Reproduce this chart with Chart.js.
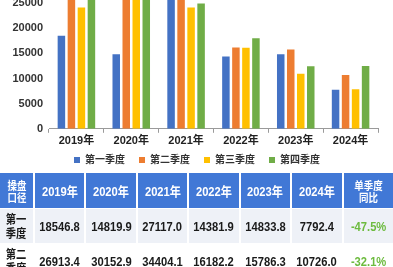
<!DOCTYPE html>
<html>
<head>
<meta charset="utf-8">
<script src="https://cdn.jsdelivr.net/npm/chart.js@4"></script>
<style>
html, body { margin:0; padding:0; background:#fff; width:393px; height:267px; overflow:hidden; position:relative;
  font-family:'Liberation Sans','Noto Sans CJK SC',sans-serif; }
#box { position:absolute; left:0; top:-47px; width:393px; height:231px; }
table { position:absolute; left:-2px; top:172px; width:397px; border-collapse:separate; border-spacing:2px 1px; table-layout:fixed; }
td, th { padding:0; text-align:center; vertical-align:middle; white-space:nowrap; }
th { background:#4178d6; color:#fff; height:35px; font:bold 13px 'Liberation Sans','Noto Sans CJK SC',sans-serif; }
th.cn { font:bold 11px/12px 'Noto Sans CJK SC',sans-serif; }
td { height:34px; color:#1a1a1a; font:bold 13px 'Liberation Sans','Noto Sans CJK SC',sans-serif; }
td.cn { font:bold 12px/14px 'Noto Sans CJK SC',sans-serif; }
td.pct { color:#6dbb3f; }
tr.r1 td { background:#eef1f7; }
.s { display:inline-block; transform:scaleX(0.86); }
</style>
</head>
<body>
<div id="box"><canvas id="myChart"></canvas></div>
<table id="tbl"></table>
<script>
var years = ['2019年','2020年','2021年','2022年','2023年','2024年'];
var quarters = ['第一季度','第二季度','第三季度','第四季度'];
var q1 = [18546.8, 14819.9, 27117.0, 14381.9, 14833.8, 7792.4];
var q2 = [26913.4, 30152.9, 34404.1, 16182.2, 15786.3, 10726.0];
var q3 = [24150, 27500, 24150, 16150, 10950, 7850];
var q4 = [27000, 29000, 24950, 18050, 12450, 12500];
var colors = ['#4472C4', '#ED7D31', '#FFC000', '#70AD47'];

Chart.defaults.font.family = "'Liberation Sans','Noto Sans CJK SC',sans-serif";

// move the legend a little right and up, like in the source picture
var legendShift = {
    id: 'legendShift',
    afterLayout: function(chart){
        var lg = chart.legend;
        lg.left += 8; lg.right += 8;
        lg.top -= 9; lg.bottom -= 9;
    }
};

var ctx = document.getElementById('myChart');
var myChart = new Chart(ctx, {
    type: 'bar',
    data: {
        labels: years,
        datasets: [q1, q2, q3, q4].map(function(d, i){
            return {
                label: quarters[i],
                data: d,
                backgroundColor: colors[i],
                categoryPercentage: 0.73,
                barPercentage: 0.75
            };
        })
    },
    options: {
        responsive: true,
        maintainAspectRatio: false,
        animation: false,
        layout: { padding: { left: 0, right: 15, top: 0, bottom: 0 } },
        plugins: {
            legend: {
                position: 'bottom',
                labels: { boxWidth: 6, boxHeight: 6, padding: 14, color: '#333', font: { size: 10, weight: 'bold' } }
            },
            tooltip: { enabled: false }
        },
        scales: {
            x: {
                grid: { display: true, drawOnChartArea: false, drawTicks: true, tickLength: 4, color: '#9a9a9a', offset: true },
                border: { color: '#9a9a9a' },
                ticks: { color: '#222', padding: 2, font: { size: 11, weight: 'bold' } },
                afterFit: function(s){ s.paddingLeft = 0; s.paddingRight = 0; }
            },
            y: {
                min: 0,
                max: 35000,
                ticks: { stepSize: 5000, padding: 6, color: '#333', font: { size: 11, weight: 'bold' },
                    callback: function(v){ return String(v); } },
                grid: { display: false, drawTicks: false },
                border: { display: false },
                afterFit: function(s){ s.width = 49; s.paddingTop = 0; s.paddingBottom = 0; }
            }
        }
    },
    plugins: [legendShift]
});

// table below the chart
function yoy(arr){
    return ((arr[arr.length - 1] / arr[arr.length - 2] - 1) * 100).toFixed(1) + '%';
}
function sp(t){ return '<span class="s">' + t + '</span>'; }
var html = '<tr><th class="cn">' + sp('操盘<br>口径') + '</th>';
years.forEach(function(y){ html += '<th>' + sp(y) + '</th>'; });
html += '<th class="cn">' + sp('单季度<br>同比') + '</th></tr>';
[q1, q2].forEach(function(arr, i){
    html += '<tr class="r' + (i + 1) + '"><td class="cn">' + sp(quarters[i].slice(0, 2) + '<br>' + quarters[i].slice(2)) + '</td>';
    arr.forEach(function(v){ html += '<td>' + sp(v.toFixed(1)) + '</td>'; });
    html += '<td class="pct">' + sp(yoy(arr)) + '</td></tr>';
});
var tbl = document.getElementById('tbl');
tbl.innerHTML = '<colgroup><col style="width:33px">' + '<col>'.repeat(7) + '</colgroup>' + html;
</script>
</body>
</html>
